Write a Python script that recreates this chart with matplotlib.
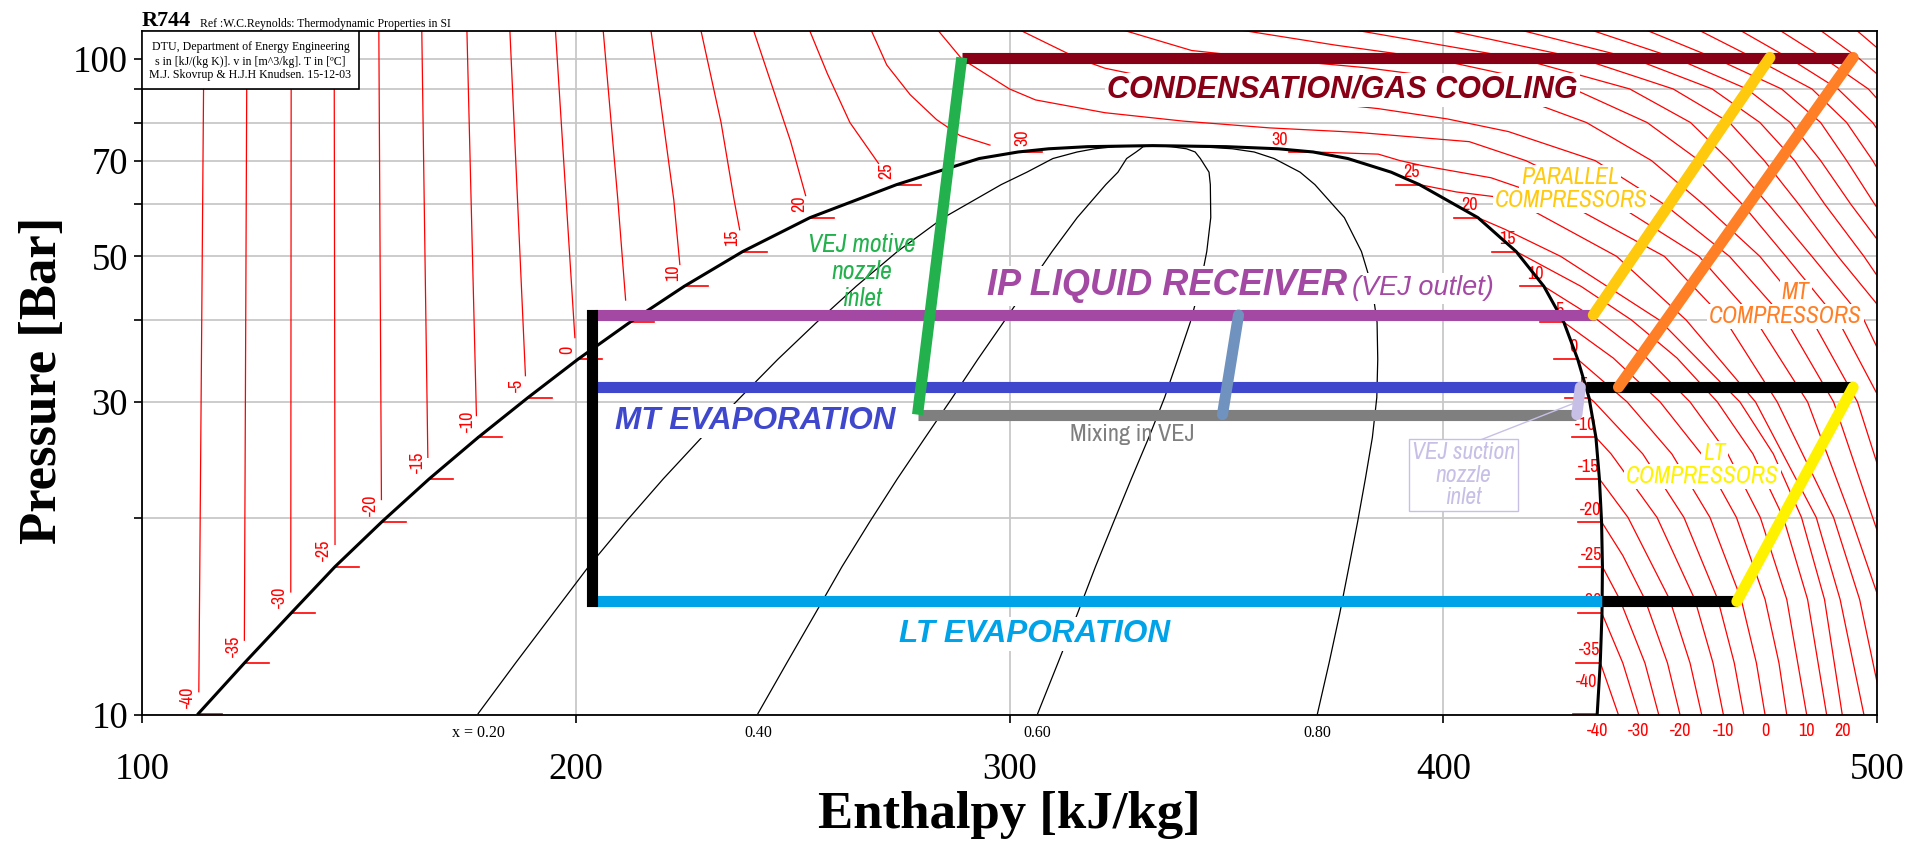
import matplotlib
matplotlib.use('Agg')
import matplotlib.pyplot as plt
from matplotlib import font_manager
from matplotlib.patches import Rectangle
from matplotlib.ticker import FixedLocator, NullFormatter
import numpy as np

_installed = {f.name for f in font_manager.fontManager.ttflist}
SERIF = 'Liberation Serif'
SANS = 'Liberation Sans'
NARROW, NS = 'Liberation Sans', 0.85
for name in ('Archivo Narrow', 'PT Sans Narrow', 'Liberation Sans Narrow'):
    if name in _installed:
        NARROW, NS = name, 1.0
        break

plt.rcParams['font.family'] = SERIF

# ---------------------------------------------------------------- R744 data
# saturation: T [C], p [bar], h liquid / h vapour [kJ/kg]
SAT_T = [-40, -35, -30, -25, -20, -15, -10, -5, 0, 5, 10, 15, 20, 25, 27, 29, 30, 30.5, 30.9, 31.0]
SAT_P = [10.05, 12.02, 14.28, 16.83, 19.70, 22.90, 26.49, 30.47, 34.85, 39.69,
         45.02, 50.87, 57.29, 64.34, 67.2, 70.5, 72.14, 72.95, 73.5, 73.77]
SAT_HL = [113.0, 123.7, 134.3, 144.5, 155.3, 166.2, 177.5, 189.0, 200.5, 212.5,
          225.0, 238.5, 254.0, 274.0, 283.0, 293.0, 302.0, 309.0, 318.0, 333.0]
SAT_HV = [435.5, 436.2, 436.6, 436.7, 436.5, 436.0, 435.2, 433.6, 431.0, 427.8,
          423.2, 416.8, 408.0, 394.5, 388.0, 378.0, 370.0, 362.0, 350.0, 333.0]

QUALITIES = [0.2, 0.4, 0.6, 0.8]
QUALITY_LABELS = ['x = 0.20', '0.40', '0.60', '0.80']

# compressed liquid isotherms: (p list, h list) from the label up to the top
SUBCOOLED = {
    -40: ([10.85, 111], [113.1, 114.3]),
    -35: ([13.0, 111], [123.6, 124.2]),
    -30: ([15.4, 111], [134.3, 134.4]),
    -25: ([18.2, 111], [144.5, 144.3]),
    -20: ([21.3, 111], [155.2, 154.6]),
    -15: ([24.7, 111], [165.9, 164.5]),
    -10: ([28.6, 111], [177.1, 174.9]),
    -5: ([32.9, 111], [188.4, 184.8]),
    0: ([37.6, 111], [199.8, 195.3]),
    5: ([42.9, 61, 111], [211.5, 209.7, 206.3]),
    10: ([48.6, 61, 111], [224.0, 222.6, 217.3]),
    15: ([54.9, 61, 80, 111], [237.8, 236.5, 233.5, 228.8]),
    20: ([61.9, 75, 90, 111], [253.0, 249.5, 245.5, 240.9]),
    25: ([69.3, 80, 95, 111], [269.8, 263.2, 258.0, 253.8]),
    30: ([73.9, 76.4, 80.8, 88.2, 97.9, 111], [295.5, 288.6, 283.2, 277.1, 271.7, 268.0]),
}

# superheated vapour isotherms below the critical temperature
VAPOUR = {
    -35: ([12.02, 10], [436.2, 440.4]),
    -30: ([14.28, 12, 10], [436.6, 441.4, 445.1]),
    -25: ([16.83, 15, 12, 10], [436.7, 440.7, 446.5, 449.7]),
    -20: ([19.7, 17.5, 15, 12, 10], [436.5, 441.4, 446.5, 451.7, 454.6]),
    -15: ([22.9, 20, 15, 12, 10], [436.0, 442.6, 452.2, 456.9, 459.6]),
    -10: ([26.49, 25, 20, 15, 12, 10], [435.2, 438.7, 449.3, 458.0, 462.2, 464.6]),
    -5: ([30.47, 30, 25, 20, 15, 12, 10], [433.6, 434.8, 446.0, 455.5, 463.3, 467.1, 469.3]),
    0: ([34.85, 30, 25, 20, 15, 12, 10], [431.0, 442.4, 452.7, 461.5, 468.7, 472.2, 474.2]),
    5: ([39.69, 35, 30, 25, 20, 15, 12, 10], [427.8, 439.2, 450.0, 459.5, 467.6, 474.2, 477.4, 479.2]),
    10: ([45.02, 40, 35, 30, 25, 20, 15, 10], [423.2, 435.6, 446.9, 456.9, 465.6, 473.1, 479.2, 483.8]),
    15: ([50.87, 45, 40, 35, 30, 25, 20, 15, 10],
         [416.8, 431.8, 443.4, 453.9, 463.2, 471.4, 478.4, 484.0, 488.4]),
    20: ([57.29, 55, 50, 40, 30, 25, 20, 15, 10],
         [408.0, 414.2, 427.1, 449.8, 468.4, 476.1, 482.6, 487.9, 492.0]),
    25: ([64.34, 62.7, 61.7, 60, 50, 40, 30, 20, 15, 10],
         [394.5, 403.0, 411.5, 418.0, 440.0, 456.0, 472.0, 486.0, 491.5, 497.0]),
    30: ([72.14, 71.6, 70, 68.8, 65.9, 60, 50, 40, 30, 20, 15, 10],
         [370.0, 385.0, 390.0, 395.0, 411.0, 429.0, 451.0, 465.0, 477.0, 490.0, 496.0, 501.6]),
}

# supercritical isotherms
SUPERCRIT = {
    35: ([111, 100, 90, 86.6, 82.8, 80.4, 78.5, 77.3, 74.8, 70, 60, 50, 40, 30, 20, 15, 10],
         [283.3, 289, 300, 306, 322, 340, 360, 380, 406, 419, 440, 459, 472, 484, 494, 500.5, 506]),
    40: ([111, 100, 96.8, 90, 86.2, 84, 81, 77.5, 70, 60, 50, 40, 30, 20, 15],
         [302.0, 316, 322, 345, 369, 385, 401, 415, 435, 451, 466, 479, 490, 499, 505.5]),
    45: ([111, 103, 100, 97, 94, 90, 80, 70, 60, 50, 40, 30, 20],
         [325.5, 342, 360, 382, 398, 412, 433, 448, 460, 473, 485, 495.5, 504]),
    50: ([111, 105, 100, 90, 80, 70, 60, 50, 40, 30],
         [352.0, 375, 398, 430, 447, 459, 469, 479, 491, 501]),
    55: ([111, 100, 90, 80, 70, 60, 50, 40, 30],
         [378.5, 418, 443, 457, 466, 475, 485, 497, 506]),
    60: ([111, 100, 90, 80, 70, 60, 50, 40], [400.0, 432, 453, 466, 474, 482, 491, 503]),
    65: ([111, 100, 90, 80, 70, 60, 50, 40], [417.0, 444, 462, 473, 481, 488, 497, 507]),
    70: ([111, 100, 90, 80, 70, 60, 50], [433.5, 454, 470, 480, 487, 494, 503]),
    75: ([111, 100, 90, 80, 70, 60, 50], [446.3, 463, 478, 487, 493, 499.5, 508]),
    80: ([111, 100, 90, 80, 70, 60], [458.5, 472, 485, 493, 499, 505]),
    85: ([111, 100, 90, 80, 70], [468.0, 480, 491, 499, 505]),
    90: ([111, 100, 90, 80], [477.2, 488, 498, 505]),
    95: ([111, 100, 90], [486.6, 496, 504]),
    100: ([111, 100], [495.0, 503]),
}

LABELLED_T = [-40, -35, -30, -25, -20, -15, -10, -5, 0, 5, 10, 15, 20, 25, 30]
BOTTOM_T = [-40, -30, -20, -10, 0, 10, 20]

# ---------------------------------------------------------------- cycle
P_GC, P_REC, P_MT, P_MIX, P_LT = 100.5, 40.7, 31.6, 28.7, 14.9
H_VALVE = 203.8
GC_H = [289.0, 494.5]
MOTIVE_H = [289.0, 278.8]
MIX_H = [278.8, 430.5]
DIFFUSER_H, DIFFUSER_P = [349.1, 352.8], [P_MIX, P_REC]
REC_H = [204.5, 435.0]
MT_EVAP_H = [204.5, 431.5]
MT_SH_H = [433.0, 494.5]
SUCTION_H, SUCTION_P = [431.6, 430.8], [P_MT, P_MIX]
LT_EVAP_H = [204.5, 436.5]
LT_SH_H = [436.5, 467.7]
LT_COMP_H, LT_COMP_P = [467.7, 494.5], [P_LT, P_MT]
MT_COMP_H, MT_COMP_P = [440.4, 494.5], [P_MT, P_GC]
PAR_COMP_H, PAR_COMP_P = [434.6, 475.3], [P_REC, P_GC]

C_GC = '#880015'
C_GREEN = '#22B14C'
C_PURPLE = '#A349A4'
C_MT = '#3F48CC'
C_LT = '#00A2E8'
C_GREY = '#7F7F7F'
C_LAV = '#C8BFE7'
C_STEEL = '#7092BE'
C_YELLOW = '#FFF200'
C_GOLD = '#FFC90E'
C_ORANGE = '#FF7F27'
RED = '#FF0000'

# ---------------------------------------------------------------- figure
fig = plt.figure(figsize=(19.3, 8.5), dpi=100)
ax = fig.add_axes([142 / 1930, 135 / 850, 1735 / 1930, 684 / 850])
ax.set_yscale('log')
ax.set_xlim(100, 500)
ax.set_ylim(10, 110.3)

ax.set_xticks([100, 200, 300, 400, 500])
ax.set_xticklabels(['100', '200', '300', '400', '500'])
ax.set_yticks([10, 30, 50, 70, 100])
ax.set_yticklabels(['10', '30', '50', '70', '100'])
ax.yaxis.set_minor_locator(FixedLocator([20, 40, 60, 80, 90]))
ax.yaxis.set_minor_formatter(NullFormatter())
ax.grid(True, which='both', color='#C8C8C8', lw=1.3)
ax.set_axisbelow(True)
ax.tick_params(which='both', direction='out', length=6, width=1.2, labelsize=26.5)
ax.tick_params(axis='x', pad=21)
ax.tick_params(axis='y', pad=4)
for s in ax.spines.values():
    s.set_linewidth(1.3)

# isotherms
for table in (SUBCOOLED, VAPOUR, SUPERCRIT):
    for T, (p, h) in table.items():
        ax.plot(h, p, color=RED, lw=0.9, zorder=2)

sat_p = np.array(SAT_P)
sat_hl = np.array(SAT_HL)
sat_hv = np.array(SAT_HV)

# short two-phase stubs and their temperature labels
lab_kw = dict(color=RED, fontsize=13 * NS, family=NARROW, annotation_clip=False, zorder=3)
for T in LABELLED_T:
    i = SAT_T.index(T)
    ax.plot([sat_hl[i], sat_hl[i] + 5.5], [sat_p[i]] * 2, color=RED, lw=1.2, zorder=2)
    ax.plot([sat_hv[i] - 5.5, sat_hv[i]], [sat_p[i]] * 2, color=RED, lw=1.2, zorder=2)
    dx_l = 9 if T == 30 else -2
    ax.annotate(str(T), (sat_hl[i], sat_p[i]), xytext=(dx_l, 4), textcoords='offset points',
                rotation=90, ha='right', va='bottom', **lab_kw)
    dx_v = -18 if T == 30 else 0
    dy_v = 17 if T == -40 else 3
    ax.annotate(str(T), (sat_hv[i], sat_p[i]), xytext=(dx_v, dy_v), textcoords='offset points',
                ha='right', va='bottom', **lab_kw)

for T in BOTTOM_T:
    h10 = SAT_HV[0] if T == -40 else VAPOUR[T][1][-1]
    ax.annotate(str(T), (h10, 10), xytext=(0, -6), textcoords='offset points',
                ha='center', va='top', **lab_kw)

# saturation dome and quality lines
ax.plot(np.r_[sat_hl, sat_hv[::-1]], np.r_[sat_p, sat_p[::-1]], color='black', lw=2.2, zorder=4)
for q, lab in zip(QUALITIES, QUALITY_LABELS):
    hq = sat_hl + q * (sat_hv - sat_hl)
    ax.plot(hq, sat_p, color='black', lw=0.9, zorder=3)
    ax.annotate(lab, (hq[0], 10), xytext=(0, -7), textcoords='offset points', ha='center',
                va='top', fontsize=11.5, family=SERIF, annotation_clip=False)

# ---------------------------------------------------------------- cycle lines
LW = 8
def seg(h, p, c, z=5, cap='butt'):
    ax.plot(h, p, color=c, lw=LW, solid_capstyle=cap, zorder=z)

seg(LT_EVAP_H, [P_LT] * 2, C_LT)
seg(MT_EVAP_H, [P_MT] * 2, C_MT)
seg(REC_H, [P_REC] * 2, C_PURPLE)
seg(MIX_H, [P_MIX] * 2, C_GREY)
seg([H_VALVE] * 2, [P_LT, P_REC], 'black', z=6, cap='projecting')
seg(LT_SH_H, [P_LT] * 2, 'black', z=5)
seg(MT_SH_H, [P_MT] * 2, 'black', z=5)
seg(GC_H, [P_GC] * 2, C_GC, z=6)
seg(MOTIVE_H, [P_GC, P_MIX], C_GREEN, z=7)
seg(DIFFUSER_H, DIFFUSER_P, C_STEEL, z=6, cap='round')
seg(SUCTION_H, SUCTION_P, C_LAV, z=7, cap='round')
seg(LT_COMP_H, LT_COMP_P, C_YELLOW, z=7, cap='round')
seg(MT_COMP_H, MT_COMP_P, C_ORANGE, z=7, cap='round')
seg(PAR_COMP_H, PAR_COMP_P, C_GOLD, z=7, cap='round')

# ---------------------------------------------------------------- labels
white = dict(facecolor='white', edgecolor='none', pad=1.5)
big = dict(family=SANS, fontweight='bold', fontstyle='italic', zorder=9)

ax.text(376.8, 87.2, 'CONDENSATION/GAS COOLING', color=C_GC, ha='center', va='baseline',
        fontsize=22, bbox=white, **big)
ax.text(377.8, 43.6, 'IP LIQUID RECEIVER', color=C_PURPLE, ha='right', va='baseline',
        fontsize=26, bbox=white, **big)
ax.text(379.0, 43.6, '(VEJ outlet)', color=C_PURPLE, ha='left', va='baseline', family=SANS,
        fontsize=19.5, fontstyle='italic', bbox=white, zorder=9)
ax.text(241.3, 27.3, 'MT EVAPORATION', color=C_MT, ha='center', va='baseline',
        fontsize=22.7, bbox=white, **big)
ax.text(305.8, 12.93, 'LT EVAPORATION', color=C_LT, ha='center', va='baseline',
        fontsize=22.7, bbox=white, **big)

comp = dict(family=NARROW, fontsize=17 * NS, fontstyle='italic', ha='center', va='baseline',
            bbox=white, zorder=9)
ax.text(429.2, 64.4, 'PARALLEL', color=C_GOLD, **comp)
ax.text(429.6, 59.4, 'COMPRESSORS', color=C_GOLD, **comp)
ax.text(481.3, 43.0, 'MT', color=C_ORANGE, **comp)
ax.text(478.8, 39.55, 'COMPRESSORS', color=C_ORANGE, **comp)
ax.text(462.5, 24.46, 'LT', color=C_YELLOW, **comp)
ax.text(459.8, 22.57, 'COMPRESSORS', color=C_YELLOW, **comp)

ax.text(265.9, 47.4, 'VEJ motive\nnozzle\ninlet', color=C_GREEN, family=NARROW,
        fontsize=18.5 * NS, fontstyle='italic', ha='center', va='center', linespacing=1.2,
        zorder=9)
ax.text(328.4, 26.75, 'Mixing in VEJ', color=C_GREY, family=NARROW, fontsize=17.5 * NS,
        ha='center', va='center', zorder=9)
ax.plot([408.2, 430.9], [26.2, 30.0], color=C_LAV, lw=1.0, zorder=8)
ax.text(404.7, 23.2, 'VEJ suction\nnozzle\ninlet', color=C_LAV, family=NARROW,
        fontsize=17 * NS, fontstyle='italic', ha='center', va='center', linespacing=1.1,
        bbox=dict(facecolor='white', edgecolor=C_LAV, lw=1.0, boxstyle='square,pad=0.12'),
        zorder=9)

# info box in the upper left corner
ax.add_patch(Rectangle((0, 0.91477), 0.12507, 0.08523, transform=ax.transAxes,
                       facecolor='white', edgecolor='black', lw=1.2, zorder=10))
for yy, line in zip([0.9762, 0.9542, 0.9352],
                    ['DTU, Department of Energy Engineering',
                     's in [kJ/(kg K)]. v in [m^3/kg]. T in [\u00baC]',
                     'M.J. Skovrup & H.J.H Knudsen. 15-12-03']):
    ax.text(0.0625, yy, line, transform=ax.transAxes, ha='center', va='center',
            fontsize=8.6, family=SERIF, zorder=11)

fig.text(141.7 / 1930, 1 - 26.5 / 850, 'R744', fontsize=16, fontweight='bold', family=SERIF,
         ha='left', va='baseline')
fig.text(200 / 1930, 1 - 26.5 / 850, 'Ref :W.C.Reynolds: Thermodynamic Properties in SI',
         fontsize=8.5, family=SERIF, ha='left', va='baseline')

fig.text(43 / 1930, 1 - 380 / 850, 'Pressure [Bar]', rotation=90, fontsize=38,
         fontweight='bold', family=SERIF, ha='center', va='center')
fig.text(1009.5 / 1930, 1 - 815 / 850, 'Enthalpy [kJ/kg]', fontsize=38, fontweight='bold',
         family=SERIF, ha='center', va='center')

fig.savefig('out.png', dpi=100)
